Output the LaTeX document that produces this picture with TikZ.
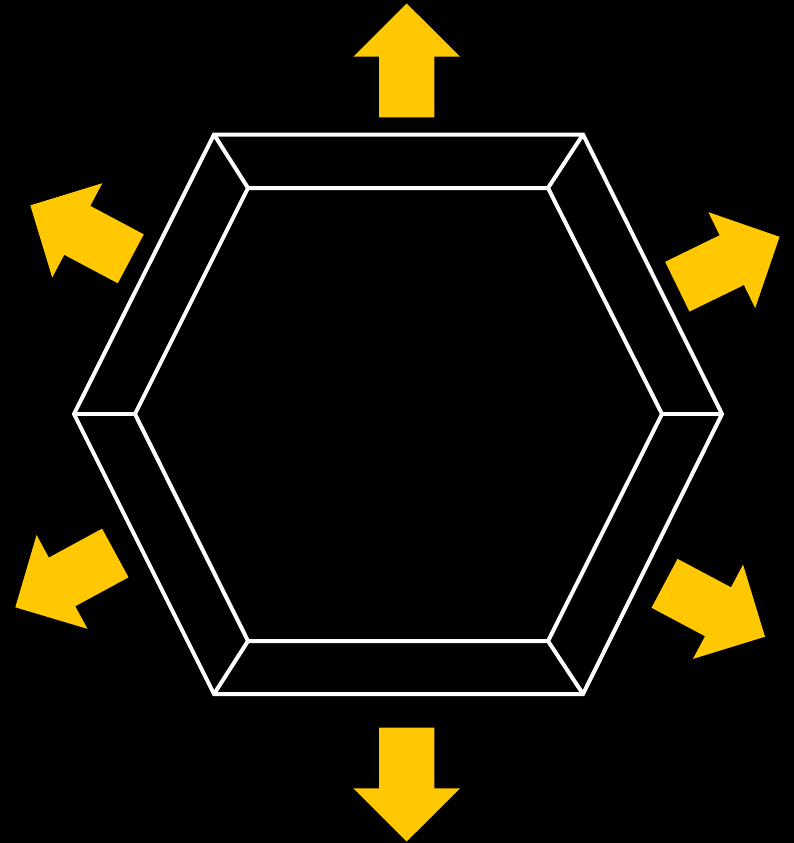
\documentclass[tikz,border=0pt]{standalone}
\definecolor{arrowyellow}{RGB}{255,200,0}
\tikzset{
  hexline/.style={draw=white, line width=4pt, line join=miter},
  outarrow/.pic={\fill[arrowyellow] (0,-27.7) -- (60.6,-27.7) -- (60.6,-53.4) -- (113.8,0) -- (60.6,53.4) -- (60.6,27.7) -- (0,27.7) -- cycle;}
}
\begin{document}
\begin{tikzpicture}[x=1pt,y=-1pt]
\fill[black] (0,0) rectangle (794,843);
\useasboundingbox (0,0) rectangle (794,843);
% outer hexagon
\coordinate (o1) at (214,134.5);
\coordinate (o2) at (583,134.5);
\coordinate (o3) at (722,414);
\coordinate (o4) at (583,694);
\coordinate (o5) at (214,694);
\coordinate (o6) at (74,414);
% inner hexagon
\coordinate (i1) at (248,188);
\coordinate (i2) at (548,188);
\coordinate (i3) at (662,414);
\coordinate (i4) at (548,641);
\coordinate (i5) at (248,641);
\coordinate (i6) at (135,414);
\draw[hexline] (o1) -- (o2) -- (o3) -- (o4) -- (o5) -- (o6) -- cycle;
\draw[hexline] (i1) -- (i2) -- (i3) -- (i4) -- (i5) -- (i6) -- cycle;
\foreach \k in {1,...,6} { \draw[hexline] (o\k) -- (i\k); }
% arrows
\pic[rotate=90] at (406.7,117.3) {outarrow};
\pic[rotate=-90] at (406.7,727.7) {outarrow};
\pic[rotate=152] at (130.8,258.8) {outarrow};
\pic[rotate=26] at (677.3,286.7) {outarrow};
\pic[rotate=208.5] at (115.3,553) {outarrow};
\pic[rotate=-28] at (664.5,583.3) {outarrow};
\end{tikzpicture}
\end{document}
